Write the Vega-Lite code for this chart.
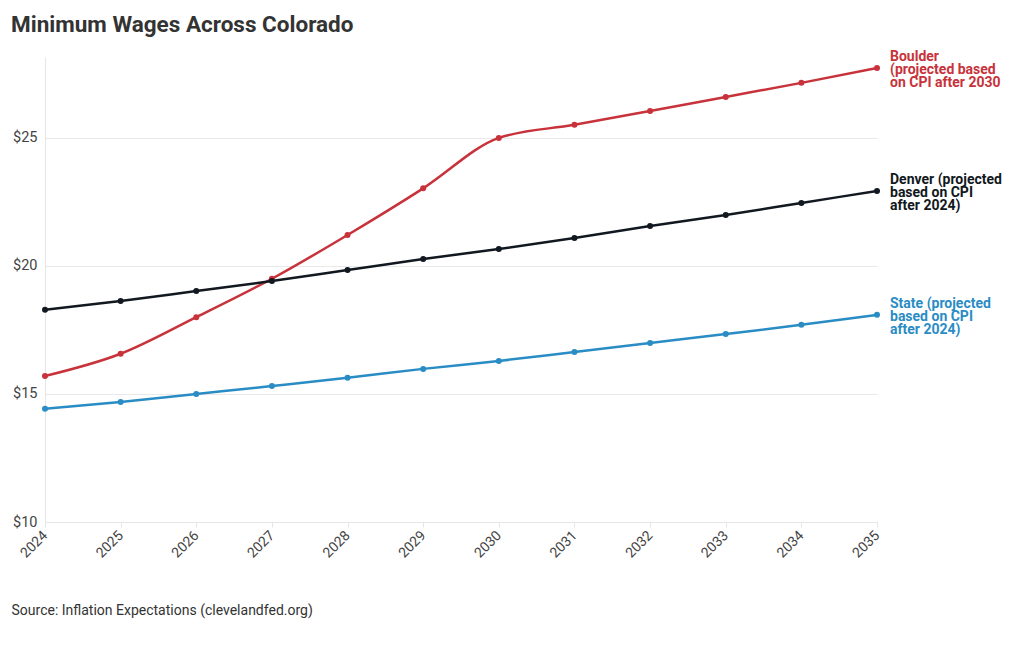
{
  "$schema": "https://vega.github.io/schema/vega-lite/v6.json",
  "width": 832,
  "height": 465,
  "autosize": {"type": "none"},
  "padding": {"left": 45, "top": 57, "right": 143, "bottom": 128},
  "background": "white",
  "config": {
    "font": "Roboto",
    "view": {"stroke": null}
  },
  "title": {
    "text": "Minimum Wages Across Colorado",
    "anchor": "start",
    "frame": "group",
    "dx": -34,
    "fontSize": 22.5,
    "fontWeight": "bold",
    "color": "#333333",
    "font": "Roboto",
    "offset": 14
  },
  "data": {
    "values": [
      {"year": 2024, "series": "Boulder", "wage": 15.70},
      {"year": 2025, "series": "Boulder", "wage": 16.57},
      {"year": 2026, "series": "Boulder", "wage": 18.00},
      {"year": 2027, "series": "Boulder", "wage": 19.50},
      {"year": 2028, "series": "Boulder", "wage": 21.21},
      {"year": 2029, "series": "Boulder", "wage": 23.03},
      {"year": 2030, "series": "Boulder", "wage": 25.00},
      {"year": 2031, "series": "Boulder", "wage": 25.51},
      {"year": 2032, "series": "Boulder", "wage": 26.05},
      {"year": 2033, "series": "Boulder", "wage": 26.60},
      {"year": 2034, "series": "Boulder", "wage": 27.15},
      {"year": 2035, "series": "Boulder", "wage": 27.73},
      {"year": 2024, "series": "Denver", "wage": 18.29},
      {"year": 2025, "series": "Denver", "wage": 18.63},
      {"year": 2026, "series": "Denver", "wage": 19.02},
      {"year": 2027, "series": "Denver", "wage": 19.41},
      {"year": 2028, "series": "Denver", "wage": 19.84},
      {"year": 2029, "series": "Denver", "wage": 20.27},
      {"year": 2030, "series": "Denver", "wage": 20.66},
      {"year": 2031, "series": "Denver", "wage": 21.09},
      {"year": 2032, "series": "Denver", "wage": 21.56},
      {"year": 2033, "series": "Denver", "wage": 21.99},
      {"year": 2034, "series": "Denver", "wage": 22.46},
      {"year": 2035, "series": "Denver", "wage": 22.93},
      {"year": 2024, "series": "State", "wage": 14.42},
      {"year": 2025, "series": "State", "wage": 14.69},
      {"year": 2026, "series": "State", "wage": 15.00},
      {"year": 2027, "series": "State", "wage": 15.31},
      {"year": 2028, "series": "State", "wage": 15.63},
      {"year": 2029, "series": "State", "wage": 15.98},
      {"year": 2030, "series": "State", "wage": 16.29},
      {"year": 2031, "series": "State", "wage": 16.64},
      {"year": 2032, "series": "State", "wage": 16.99},
      {"year": 2033, "series": "State", "wage": 17.34},
      {"year": 2034, "series": "State", "wage": 17.70},
      {"year": 2035, "series": "State", "wage": 18.09}
    ]
  },
  "encoding": {
    "x": {
      "field": "year",
      "type": "quantitative",
      "scale": {"domain": [2024, 2035], "nice": false, "zero": false},
      "axis": {
        "values": [2024, 2025, 2026, 2027, 2028, 2029, 2030, 2031, 2032, 2033, 2034, 2035],
        "format": "d",
        "labelAngle": -45,
        "labelAlign": "right",
        "labelBaseline": "middle",
        "labelFontSize": 14,
        "labelColor": "#444444",
        "labelPadding": 6,
        "labelFlush": false,
        "labelOverlap": false,
        "grid": false,
        "domainColor": "#e6e6e6",
        "tickColor": "#e6e6e6",
        "tickSize": 5,
        "title": "Source: Inflation Expectations (clevelandfed.org)",
        "titleAnchor": "start",
        "titleAlign": "left",
        "titleBaseline": "alphabetic",
        "titleX": -34,
        "titleY": 92,
        "titleFontSize": 14,
        "titleFontWeight": "normal",
        "titleColor": "#333333"
      }
    },
    "y": {
      "field": "wage",
      "type": "quantitative",
      "scale": {"domain": [10, 28.16], "nice": false, "zero": false},
      "axis": {
        "values": [10, 15, 20, 25],
        "format": "$.0f",
        "labelFontSize": 14.5,
        "labelColor": "#444444",
        "labelPadding": 8,
        "ticks": false,
        "gridColor": "#e9e9e9",
        "domainColor": "#e6e6e6",
        "title": null
      }
    },
    "color": {
      "field": "series",
      "type": "nominal",
      "scale": {"domain": ["Boulder", "Denver", "State"], "range": ["#c8323a", "#111820", "#2a8cc4"]},
      "legend": null
    }
  },
  "layer": [
    {
      "mark": {"type": "line", "interpolate": "monotone", "strokeWidth": 2.5}
    },
    {
      "mark": {"type": "circle", "size": 36, "opacity": 1}
    },
    {
      "transform": [
        {"filter": "datum.year == 2035"},
        {"calculate": "datum.series == 'Boulder' ? 'Boulder\\n(projected based\\non CPI after 2030' : (datum.series == 'Denver' ? 'Denver (projected\\nbased on CPI\\nafter 2024)' : 'State (projected\\nbased on CPI\\nafter 2024)')", "as": "label"}
      ],
      "mark": {
        "type": "text",
        "align": "left",
        "baseline": "middle",
        "dx": 13,
        "dy": -11,
        "fontSize": 14,
        "fontWeight": "bold",
        "lineHeight": 13,
        "lineBreak": "\n"
      },
      "encoding": {"text": {"field": "label"}}
    }
  ]
}
